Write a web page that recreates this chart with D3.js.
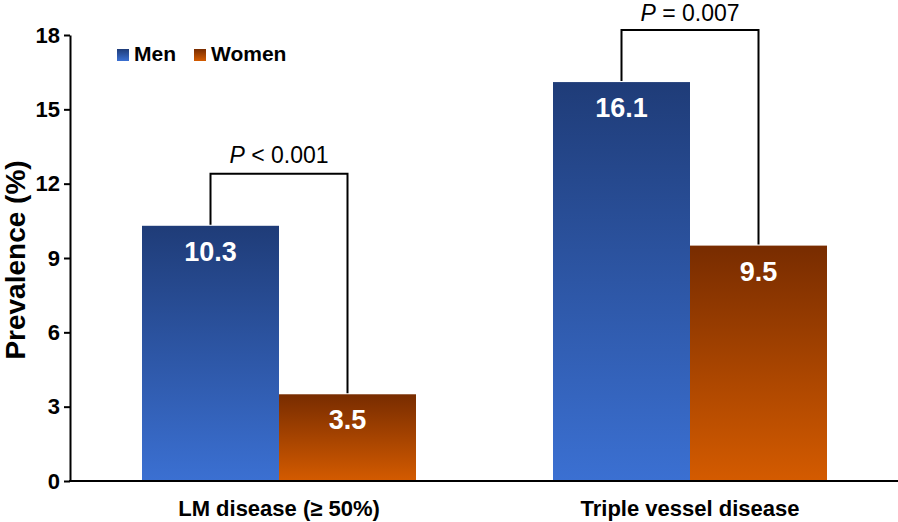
<!DOCTYPE html>
<html><head><meta charset="utf-8">
<script src="https://cdn.jsdelivr.net/npm/d3@7"></script>
<style>body{margin:0;background:#fff}svg{display:block}text{font-family:Arial,"Liberation Sans",sans-serif}</style>
</head><body>
<svg id="c" width="898" height="522"></svg>
<script>
const categories = ["LM disease (\u2265 50%)", "Triple vessel disease"];
const seriesNames = ["Men", "Women"];
const menValues = [10.3, 16.1];
const womenValues = [3.5, 9.5];
const pLabels = [["P", " < 0.001"], ["P", " = 0.007"]];
const yTicks = [0, 3, 6, 9, 12, 15, 18];

const svg = d3.select("#c");
const y = d3.scaleLinear().domain([0, 18]).range([481, 35]);
const x = d3.scaleBand().domain(categories).range([73.5, 895.5]).padding(0);
const xs = d3.scaleBand().domain(seriesNames).range([0, x.bandwidth() * 2 / 3]);
const groupOff = x.bandwidth() / 6;
const FF = "Arial, 'Liberation Sans', sans-serif";

const defs = svg.append("defs");
const grads = {Men: ["#1f3c78", "#3b70d2"], Women: ["#782c00", "#d45b00"]};
const data = [];
categories.forEach((c, i) => {
  data.push({cat: c, s: "Men", v: menValues[i], i});
  data.push({cat: c, s: "Women", v: womenValues[i], i});
});
data.forEach((d, j) => {
  const c = grads[d.s];
  const g = defs.append("linearGradient").attr("id", "bg" + j).attr("x1", 0).attr("y1", 0).attr("x2", 0).attr("y2", 1);
  g.append("stop").attr("offset", "0%").attr("stop-color", c[0]);
  g.append("stop").attr("offset", "100%").attr("stop-color", c[1]);
  d.gid = "bg" + j;
});

svg.selectAll("rect.bar").data(data).join("rect").attr("class", "bar")
  .attr("x", d => x(d.cat) + groupOff + xs(d.s))
  .attr("width", xs.bandwidth())
  .attr("y", d => y(d.v))
  .attr("height", d => y(0) - y(d.v))
  .attr("fill", d => "url(#" + d.gid + ")");

svg.selectAll("text.val").data(data).join("text").attr("class", "val")
  .attr("x", d => x(d.cat) + groupOff + xs(d.s) + xs.bandwidth() / 2)
  .attr("y", d => y(d.v) + 35)
  .attr("text-anchor", "middle").attr("fill", "#fff")
  .attr("font-size", 27).attr("font-weight", "bold")
  .text(d => d.v.toFixed(1));

// brackets
categories.forEach((c, i) => {
  const xm = x(c) + groupOff + xs("Men") + xs.bandwidth() / 2;
  const xw = x(c) + groupOff + xs("Women") + xs.bandwidth() / 2;
  const top = Math.max(menValues[i], womenValues[i]) + 2.1;
  const path = d3.path();
  path.moveTo(xm, y(menValues[i]) - 1);
  path.lineTo(xm, y(top));
  path.lineTo(xw, y(top));
  path.lineTo(xw, y(womenValues[i]) - 1);
  svg.append("path").attr("d", path.toString()).attr("fill", "none").attr("stroke", "#000").attr("stroke-width", 2);
  const t = svg.append("text").attr("x", (xm + xw) / 2).attr("y", Math.max(y(top) - 11, 21))
    .attr("text-anchor", "middle").attr("font-size", 23).attr("fill", "#000");
  t.append("tspan").attr("font-style", "italic").text(pLabels[i][0]);
  t.append("tspan").text(pLabels[i][1]);
});

// axes
const yAxis = svg.append("g").attr("transform", "translate(70,0)")
  .call(d3.axisLeft(y).tickValues(yTicks).tickSize(6).tickSizeOuter(0));
yAxis.attr("font-size", 22).attr("font-family", FF);
yAxis.select(".domain").attr("stroke-width", 2);
yAxis.selectAll(".tick line").attr("stroke-width", 2);
yAxis.selectAll(".tick text").attr("font-size", 22).attr("font-weight", "bold").attr("fill", "#000").attr("x", -10);

svg.append("line").attr("x1", 69).attr("x2", 898).attr("y1", y(0)).attr("y2", y(0)).attr("stroke", "#000").attr("stroke-width", 2);

svg.selectAll("text.cat").data(categories).join("text").attr("class", "cat")
  .attr("x", d => x(d) + x.bandwidth() / 2).attr("y", 516)
  .attr("text-anchor", "middle").attr("font-size", 22).attr("font-weight", "bold").text(d => d);

svg.append("text").attr("transform", "translate(25,260) rotate(-90)")
  .attr("text-anchor", "middle").attr("font-size", 28).attr("font-weight", "bold").text("Prevalence (%)");

// legend
const leg = svg.append("g");
const legX = [117, 194];
seriesNames.forEach((s, i) => {
  leg.append("rect").attr("x", legX[i]).attr("y", 49).attr("width", 12).attr("height", 12).attr("fill", "url(#bg" + i + ")");
  leg.append("text").attr("x", legX[i] + 17).attr("y", 61).attr("font-size", 21).attr("font-weight", "bold").text(s);
});
</script>
</body></html>
